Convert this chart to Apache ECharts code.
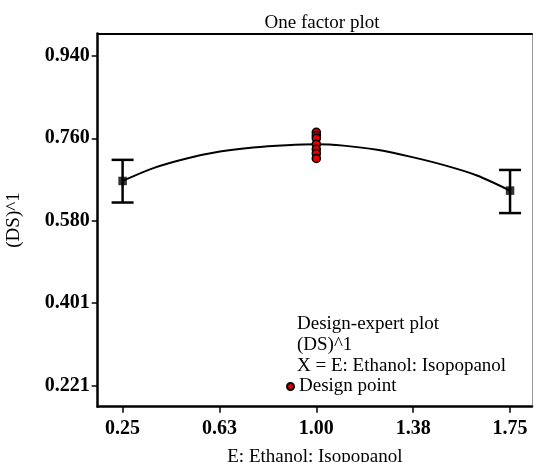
<!DOCTYPE html>
<html>
<head>
<meta charset="utf-8">
<script src="https://cdn.jsdelivr.net/npm/echarts@6/dist/echarts.min.js"></script>
<style>
  html, body { margin: 0; padding: 0; background: #fff; }
  #one_factor_plot { width: 534px; height: 462px; }
</style>
</head>
<body>
<div id="one_factor_plot"></div>
<script>
// tick values / labels
var xTicks = [0.25, 0.625, 1.0, 1.375, 1.75];
var xTickLabels = ['0.25', '0.63', '1.00', '1.38', '1.75'];
var yTicks = [0.221, 0.401, 0.580, 0.760, 0.940];
var yTickLabels = ['0.221', '0.401', '0.580', '0.760', '0.940'];

// model line
var curveX = [0.25, 0.369, 0.498, 0.627, 0.755, 0.885, 1.0, 1.105, 1.235, 1.363, 1.491, 1.622, 1.75];
var curveY = [0.667, 0.695, 0.716, 0.731, 0.740, 0.745, 0.747, 0.744, 0.735, 0.720, 0.702, 0.679, 0.646];

// means with error bars
var meanX = [0.25, 1.75];
var meanY = [0.667, 0.646];
var errLow = [0.620, 0.597];
var errHigh = [0.713, 0.691];

// design points at centre
var designX = [1.0, 1.0, 1.0, 1.0, 1.0, 1.0, 1.0];
var designY = [0.773, 0.766, 0.760, 0.747, 0.736, 0.727, 0.716];

var serif = 'Liberation Serif';

var myChart = echarts.init(document.getElementById('one_factor_plot'));

var curveData = [];
for (var i = 0; i < curveX.length; i++) curveData.push([curveX[i], curveY[i]]);
var meanData = [];
var errData = [];
for (var i = 0; i < meanX.length; i++) {
    meanData.push([meanX[i], meanY[i]]);
    errData.push([meanX[i], errLow[i], errHigh[i]]);
}
var designData = [];
for (var i = 0; i < designX.length; i++) designData.push([designX[i], designY[i]]);

var option = {
    animation: false,
    backgroundColor: '#fff',
    grid: {left: 97.7, top: 33.4, right: 2, bottom: 55.3, outerBoundsMode: 'none', containLabel: false},
    legend: {
        left: 286, top: 377,
        itemWidth: 7, itemHeight: 7, itemGap: 4,
        padding: 0,
        textStyle: {fontFamily: serif, fontSize: 19, color: '#000'},
        data: [{name: 'Design point', icon: 'circle'}]
    },
    graphic: [
        {type: 'text', x: 322, y: 23, style: {text: 'One factor plot', align: 'center', verticalAlign: 'middle',
            fontFamily: serif, fontSize: 19, fill: '#000'}},
        {type: 'text', x: 297, y: 324, style: {text: 'Design-expert plot', verticalAlign: 'middle',
            fontFamily: serif, fontSize: 19, fill: '#000'}},
        {type: 'text', x: 297, y: 345, style: {text: '(DS)^1', verticalAlign: 'middle',
            fontFamily: serif, fontSize: 19, fill: '#000'}},
        {type: 'text', x: 297, y: 366, style: {text: 'X = E: Ethanol: Isopopanol', verticalAlign: 'middle',
            fontFamily: serif, fontSize: 19, fill: '#000'}}
    ],
    xAxis: [
        {
            type: 'value', min: 0.1536, max: 1.835,
            name: 'E: Ethanol: Isopopanol', nameLocation: 'middle', nameGap: 41,
            nameTextStyle: {fontFamily: serif, fontSize: 19, color: '#000'},
            axisLine: {lineStyle: {color: '#000', width: 2.5}},
            axisTick: {customValues: xTicks, length: 6, lineStyle: {color: '#000', width: 1.5}},
            axisLabel: {
                customValues: xTicks, margin: 12,
                fontFamily: serif, fontSize: 20, fontWeight: 'bold', color: '#000',
                formatter: function (v) { return xTickLabels[xTicks.indexOf(v)]; }
            },
            splitLine: {show: false}
        },
        {
            type: 'value', min: 0.1536, max: 1.835, position: 'top',
            axisLine: {lineStyle: {color: '#000', width: 2}},
            axisTick: {show: false}, axisLabel: {show: false}, splitLine: {show: false}
        }
    ],
    yAxis: [
        {
            type: 'value', min: 0.175, max: 0.9886,
            name: '(DS)^1', nameLocation: 'middle', nameGap: 74,
            nameTextStyle: {fontFamily: serif, fontSize: 19, color: '#000'},
            axisLine: {lineStyle: {color: '#000', width: 2.5}},
            axisTick: {customValues: yTicks, length: 6, lineStyle: {color: '#000', width: 1.5}},
            axisLabel: {
                customValues: yTicks, margin: 8,
                fontFamily: serif, fontSize: 20, fontWeight: 'bold', color: '#000',
                formatter: function (v) { return yTickLabels[yTicks.indexOf(v)]; }
            },
            splitLine: {show: false}
        },
        {
            type: 'value', min: 0.175, max: 0.9886, position: 'right',
            axisLine: {show: true, lineStyle: {color: '#999', width: 1}},
            axisTick: {show: false}, axisLabel: {show: false}, splitLine: {show: false}
        }
    ],
    series: [
        {
            name: 'model',
            type: 'line',
            data: curveData,
            smooth: 0.3,
            showSymbol: false,
            lineStyle: {color: '#000', width: 2},
            z: 2
        },
        {
            name: 'error',
            type: 'custom',
            data: errData,
            renderItem: function (params, api) {
                var x = api.value(0);
                var lo = api.coord([x, api.value(1)]);
                var hi = api.coord([x, api.value(2)]);
                var cap = 11;
                var style = {stroke: '#000', lineWidth: 2.5};
                return {
                    type: 'group',
                    children: [
                        {type: 'line', shape: {x1: hi[0], y1: hi[1], x2: lo[0], y2: lo[1]}, style: style},
                        {type: 'line', shape: {x1: hi[0] - cap, y1: hi[1], x2: hi[0] + cap, y2: hi[1]}, style: style},
                        {type: 'line', shape: {x1: lo[0] - cap, y1: lo[1], x2: lo[0] + cap, y2: lo[1]}, style: style}
                    ]
                };
            },
            z: 3
        },
        {
            name: 'mean',
            type: 'scatter',
            data: meanData,
            symbol: 'rect',
            symbolSize: 8.5,
            itemStyle: {color: '#000'},
            z: 4
        },
        {
            name: 'Design point',
            type: 'scatter',
            data: designData,
            symbol: 'circle',
            symbolSize: 8,
            itemStyle: {color: '#e00000', borderColor: '#000', borderWidth: 1.6, opacity: 1},
            z: 5
        }
    ]
};
myChart.setOption(option, true);
</script>
</body>
</html>
